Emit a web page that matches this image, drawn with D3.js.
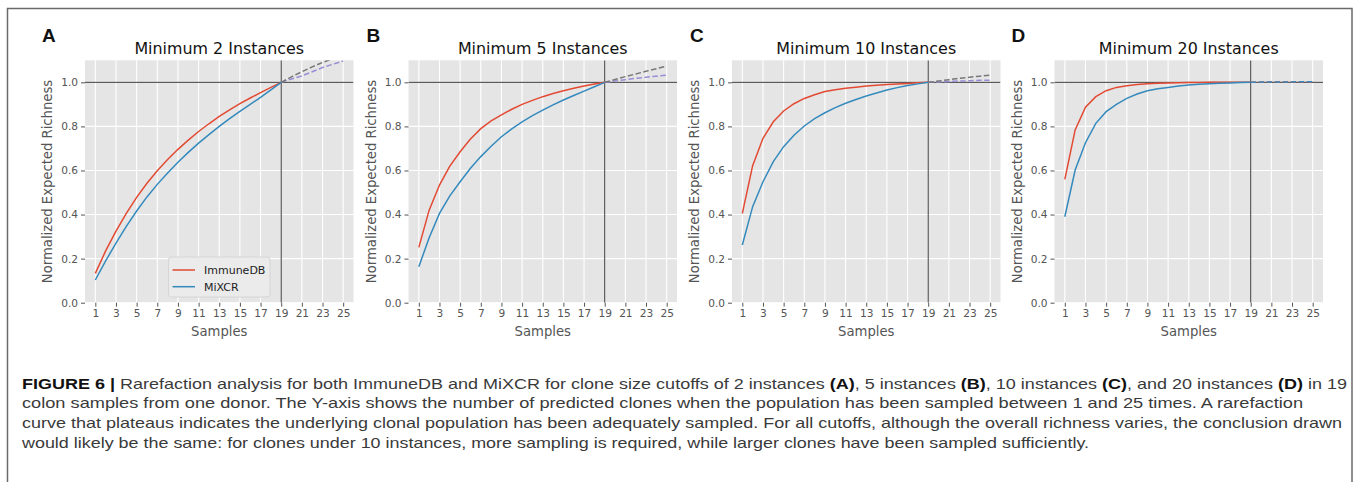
<!DOCTYPE html>
<html>
<head>
<meta charset="utf-8" />
<script src="https://d3js.org/d3.v7.min.js"></script>
<style>
    body {
        margin: 0;
        background-color: white;
    }
    svg {
        display: block;
    }
</style>
</head>
<body>
<svg width="1357" height="482"></svg>
<script>
// samples drawn (observed) and extrapolated
const samples = [1, 2, 3, 4, 5, 6, 7, 8, 9, 10, 11, 12, 13, 14, 15, 16, 17, 18, 19]
const extSamples = [19, 20, 21, 22, 23, 24, 25]
const xTicks = [1, 3, 5, 7, 9, 11, 13, 15, 17, 19, 21, 23, 25]
const yTicks = [0, 0.2, 0.4, 0.6, 0.8, 1.0]
const seriesNames = ['ImmuneDB', 'MiXCR']
const panelLetters = ['A', 'B', 'C', 'D']
const panelTitles = ['Minimum 2 Instances', 'Minimum 5 Instances', 'Minimum 10 Instances', 'Minimum 20 Instances']

// A : minimum 2 instances
const immunedbA = [0.133, 0.235, 0.325, 0.405, 0.478, 0.542, 0.599, 0.65, 0.696, 0.738, 0.777, 0.812, 0.845, 0.875, 0.903, 0.929, 0.953, 0.977, 1.0]
const mixcrA = [0.103, 0.19, 0.27, 0.346, 0.416, 0.48, 0.537, 0.589, 0.637, 0.682, 0.724, 0.763, 0.8, 0.835, 0.868, 0.9, 0.932, 0.966, 1.0]
const extHighA = [1.0, 1.025, 1.048, 1.07, 1.09, 1.108, 1.125]
const extLowA = [1.0, 1.015, 1.029, 1.048, 1.067, 1.082, 1.097]

// B : minimum 5 instances
const immunedbB = [0.251, 0.42, 0.534, 0.62, 0.685, 0.743, 0.79, 0.825, 0.852, 0.878, 0.9, 0.918, 0.935, 0.949, 0.962, 0.973, 0.983, 0.992, 1.0]
const mixcrB = [0.163, 0.295, 0.405, 0.485, 0.549, 0.61, 0.663, 0.71, 0.753, 0.789, 0.821, 0.849, 0.874, 0.898, 0.92, 0.94, 0.96, 0.98, 1.0]
const extHighB = [1.0, 1.013, 1.026, 1.038, 1.05, 1.062, 1.074]
const extLowB = [1.0, 1.006, 1.012, 1.018, 1.023, 1.028, 1.033]

// C : minimum 10 instances
const immunedbC = [0.405, 0.622, 0.746, 0.821, 0.87, 0.903, 0.927, 0.944, 0.958, 0.966, 0.973, 0.978, 0.983, 0.987, 0.99, 0.993, 0.995, 0.998, 1.0]
const mixcrC = [0.262, 0.436, 0.549, 0.64, 0.708, 0.76, 0.802, 0.835, 0.862, 0.885, 0.905, 0.922, 0.938, 0.952, 0.965, 0.976, 0.986, 0.993, 1.0]
const extHighC = [1.0, 1.006, 1.012, 1.018, 1.023, 1.028, 1.033]
const extLowC = [1.0, 1.002, 1.004, 1.006, 1.007, 1.009, 1.01]

// D : minimum 20 instances
const immunedbD = [0.56, 0.784, 0.887, 0.935, 0.962, 0.977, 0.985, 0.99, 0.994, 0.996, 0.997, 0.998, 0.999, 0.999, 1.0, 1.0, 1.0, 1.0, 1.0]
const mixcrD = [0.39, 0.602, 0.726, 0.814, 0.867, 0.9, 0.927, 0.947, 0.962, 0.971, 0.977, 0.983, 0.988, 0.991, 0.994, 0.996, 0.997, 0.999, 1.0]
const extHighD = [1.0, 1.001, 1.001, 1.002, 1.002, 1.003, 1.003]
const extLowD = [1.0, 1.0, 1.001, 1.001, 1.001, 1.001, 1.002]

const captionLines = [
    [['FIGURE 6 | ', true], ['Rarefaction analysis for both ImmuneDB and MiXCR for clone size cutoffs of 2 instances ', false], ['(A)', true], [', 5 instances ', false], ['(B)', true], [', 10 instances ', false], ['(C)', true], [', and 20 instances ', false], ['(D)', true], [' in 19', false]],
    [['colon samples from one donor. The Y-axis shows the number of predicted clones when the population has been sampled between 1 and 25 times. A rarefaction', false]],
    [['curve that plateaus indicates the underlying clonal population has been adequately sampled. For all cutoffs, although the overall richness varies, the conclusion drawn', false]],
    [['would likely be the same: for clones under 10 instances, more sampling is required, while larger clones have been sampled sufficiently.', false]],
]

const red = '#E24A33'
const blue = '#348ABD'
const panels = [
    { left: 85, letterX: 42, immune: immunedbA, mixcr: mixcrA, extHigh: extHighA, extLow: extLowA, extColors: ['#777777', '#988ED5'], legend: true },
    { left: 408.5, letterX: 366.5, immune: immunedbB, mixcr: mixcrB, extHigh: extHighB, extLow: extLowB, extColors: ['#777777', '#988ED5'] },
    { left: 732, letterX: 690, immune: immunedbC, mixcr: mixcrC, extHigh: extHighC, extLow: extLowC, extColors: ['#777777', '#988ED5'] },
    { left: 1054.5, letterX: 1011.5, immune: immunedbD, mixcr: mixcrD, extHigh: extHighD, extLow: extLowD, extColors: [blue, red] },
]

const svg = d3.select('svg')
const plotW = 268.5
const plotTop = 60.3
const plotBottom = 302.7
const font = 'DejaVu Sans'

// figure frame
svg.append('rect')
    .attr('x', 7.5).attr('y', 8.5)
    .attr('width', 1344.5).attr('height', 500)
    .attr('fill', 'white')
    .attr('stroke', '#6a6a6a')
    .attr('stroke-width', 1.5)

panels.forEach((p, i) => {
    const x = d3.scaleLinear().domain([0, 26]).range([p.left, p.left + plotW])
    const y = d3.scaleLinear().domain([0, 1.1]).range([plotBottom, plotTop])
    const g = svg.append('g')

    g.append('rect')
        .attr('x', p.left).attr('y', plotTop)
        .attr('width', plotW).attr('height', plotBottom - plotTop)
        .attr('fill', '#E5E5E5')

    g.append('clipPath').attr('id', 'clip' + i)
        .append('rect')
        .attr('x', p.left).attr('y', plotTop)
        .attr('width', plotW).attr('height', plotBottom - plotTop)

    // grid
    g.selectAll('.vgrid').data(xTicks).enter().append('line')
        .attr('x1', (d) => x(d)).attr('x2', (d) => x(d))
        .attr('y1', plotTop).attr('y2', plotBottom)
        .style('stroke', 'white').style('stroke-width', 1.1)
    g.selectAll('.hgrid').data(yTicks).enter().append('line')
        .attr('x1', p.left).attr('x2', p.left + plotW)
        .attr('y1', (d) => y(d)).attr('y2', (d) => y(d))
        .style('stroke', 'white').style('stroke-width', 1.1)

    // axes
    const xAxis = g.append('g')
        .attr('transform', `translate(0,${plotBottom})`)
        .call(d3.axisBottom(x).tickValues(xTicks).tickSize(4).tickPadding(3))
    const yAxis = g.append('g')
        .attr('transform', `translate(${p.left},0)`)
        .call(d3.axisLeft(y).tickValues(yTicks).tickFormat(d3.format('.1f')).tickSize(4).tickPadding(3))
    ;[xAxis, yAxis].forEach((a) => {
        a.select('.domain').remove()
        a.selectAll('line').style('stroke', '#555').style('stroke-width', 1)
        a.selectAll('text')
            .style('font-family', font)
            .style('font-size', '10.6px')
            .style('fill', '#555')
    })

    // reference lines at 19 samples / 1.0
    const refs = g.append('g').attr('clip-path', `url(#clip${i})`)
    refs.append('line')
        .attr('x1', p.left).attr('x2', p.left + plotW)
        .attr('y1', y(1)).attr('y2', y(1))
        .style('stroke', '#3a3a3a').style('stroke-width', 1)
    refs.append('line')
        .attr('x1', x(19)).attr('x2', x(19))
        .attr('y1', plotTop).attr('y2', plotBottom)
        .style('stroke', '#3a3a3a').style('stroke-width', 1)

    const line = d3.line().x((d) => x(d[0])).y((d) => y(d[1]))
    const curves = g.append('g').attr('clip-path', `url(#clip${i})`)
    curves.append('path')
        .attr('d', line(samples.map((s, k) => [s, p.immune[k]])))
        .style('fill', 'none').style('stroke', red).style('stroke-width', 1.5)
    curves.append('path')
        .attr('d', line(samples.map((s, k) => [s, p.mixcr[k]])))
        .style('fill', 'none').style('stroke', blue).style('stroke-width', 1.5)
    ;[p.extLow, p.extHigh].forEach((ext, k) => {
        curves.append('path')
            .attr('d', line(extSamples.map((s, j) => [s, ext[j]])))
            .style('fill', 'none')
            .style('stroke', p.extColors[1 - k])
            .style('stroke-width', 1.5)
            .style('stroke-dasharray', '5.5,2.5')
    })

    // texts
    g.append('text')
        .attr('x', p.left + plotW / 2).attr('y', 54)
        .attr('text-anchor', 'middle')
        .style('font-family', font).style('font-size', '15.9px')
        .style('fill', '#111')
        .text(panelTitles[i])
    g.append('text')
        .attr('x', p.left + plotW / 2).attr('y', 336)
        .attr('text-anchor', 'middle')
        .style('font-family', font).style('font-size', '13.2px')
        .style('fill', '#555')
        .text('Samples')
    g.append('text')
        .attr('transform', `translate(${p.left - 37.5},${(plotTop + plotBottom) / 2}) rotate(-90)`)
        .attr('dy', '0.35em')
        .attr('text-anchor', 'middle')
        .style('font-family', font).style('font-size', '13.2px')
        .style('fill', '#555')
        .text('Normalized Expected Richness')
    g.append('text')
        .attr('x', p.letterX).attr('y', 41.5)
        .style('font-family', 'Liberation Sans, Arial').style('font-size', '19px')
        .style('font-weight', 'bold')
        .style('fill', '#111')
        .text(panelLetters[i])

    if (p.legend) {
        const lg = g.append('g')
        lg.append('rect')
            .attr('x', 168.5).attr('y', 257)
            .attr('width', 101.5).attr('height', 40)
            .attr('rx', 3)
            .style('fill', '#EBEBEB')
            .style('stroke', '#D5D5D5')
            .style('stroke-width', 1)
        ;[red, blue].forEach((c, k) => {
            const ly = 270 + k * 16.7
            lg.append('line')
                .attr('x1', 172.5).attr('x2', 195)
                .attr('y1', ly).attr('y2', ly)
                .style('stroke', c).style('stroke-width', 1.5)
            lg.append('text')
                .attr('x', 204).attr('y', ly + 4)
                .style('font-family', font).style('font-size', '11px')
                .style('fill', '#222')
                .text(seriesNames[k])
        })
    }
})

// caption
const lineEnds = [1347, 1303, 1342, 1089]
captionLines.forEach((parts, i) => {
    const t = svg.append('text')
        .attr('x', 22).attr('y', 388.6 + i * 19.8)
        .attr('textLength', lineEnds[i] - 22)
        .attr('lengthAdjust', 'spacingAndGlyphs')
        .style('font-family', 'Liberation Sans Narrow, Liberation Sans, Arial')
        .style('font-size', '15px')
        .style('fill', '#333')
    parts.forEach(([s, bold]) => {
        t.append('tspan')
            .style('font-weight', bold ? 'bold' : 'normal')
            .style('fill', bold ? '#111' : '#3a3a3a')
            .text(s)
    })
})
</script>
</body>
</html>
